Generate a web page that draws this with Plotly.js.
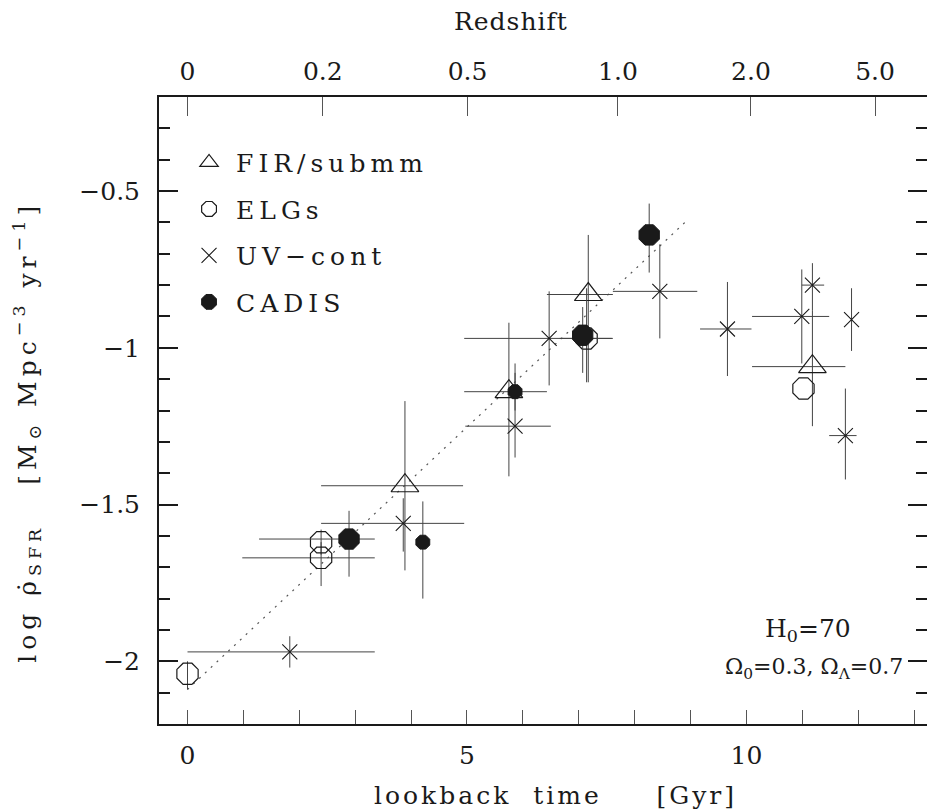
<!DOCTYPE html>
<html>
<head>
<meta charset="utf-8">
<script src="https://cdn.plot.ly/plotly-3.0.1.min.js"></script>
<style>
  html, body { margin: 0; padding: 0; background: #fff; }
  .legendtext { letter-spacing: 5px; }
  g.annotation[data-index="0"] text { letter-spacing: 5px; }
  g.annotation[data-index="1"] text { letter-spacing: 1px; }
  g.annotation[data-index="2"] text { letter-spacing: 3px; }
</style>
</head>
<body>
<div id="chart" style="width:927px;height:811px;"></div>
<script>
// ---- FIR/submm (open triangles) ----
const firT    = [3.89, 5.75, 7.17, 11.18];
const firY    = [-1.44, -1.14, -0.83, -1.06];
const firTlo  = [2.39, 4.95, 6.43, 10.10];
const firThi  = [4.93, 6.43, 7.61, 11.77];
const firYlo  = [-1.71, -1.41, -1.11, -1.25];
const firYhi  = [-1.17, -0.92, -0.64, -0.88];

// ---- ELGs (open octagons) ----
const elgT    = [0.00, 2.39, 2.39, 7.14, 11.02];
const elgY    = [-2.04, -1.62, -1.67, -0.97, -1.13];
const elgTlo  = [0.00, 2.39, 0.98, 6.66, 11.02];
const elgThi  = [0.00, 2.39, 3.35, 7.61, 11.02];
const elgYlo  = [-2.09, -1.66, -1.76, -1.11, -1.13];
const elgYhi  = [-2.00, -1.58, -1.62, -0.81, -1.13];

// ---- UV-cont (crosses) ----
const uvT     = [1.83, 3.86, 5.86, 6.47, 8.45, 9.66, 10.99, 11.18, 11.88, 11.77];
const uvY     = [-1.97, -1.56, -1.25, -0.97, -0.82, -0.94, -0.90, -0.80, -0.91, -1.28];
const uvTlo   = [0.00, 2.39, 4.97, 4.95, 7.61, 9.17, 10.10, 10.99, 11.88, 11.48];
const uvThi   = [3.35, 4.95, 6.50, 7.59, 9.12, 10.09, 11.48, 11.39, 11.88, 11.97];
const uvYlo   = [-2.02, -1.65, -1.35, -1.12, -0.97, -1.09, -1.05, -0.88, -1.01, -1.42];
const uvYhi   = [-1.92, -1.48, -1.05, -0.82, -0.67, -0.79, -0.75, -0.73, -0.81, -1.13];

// ---- CADIS (filled octagons) ----
const cadT    = [2.89, 4.21, 5.86, 7.07, 8.26];
const cadY    = [-1.61, -1.62, -1.14, -0.96, -0.64];
const cadTlo  = [1.28, 4.21, 5.86, 7.07, 8.26];
const cadThi  = [3.35, 4.21, 5.86, 7.07, 8.26];
const cadYlo  = [-1.73, -1.80, -1.20, -1.08, -0.76];
const cadYhi  = [-1.52, -1.49, -1.08, -0.87, -0.54];
const cadKind = ['wide', 'deep', 'deep', 'wide', 'wide'];

// ---- dotted fit line (end points) ----
const fitT = [0.0, 8.9];
const fitY = [-2.09, -0.60];

// ---- top axis: redshift labels and their lookback times ----
const zLabels   = ['0', '0.2', '0.5', '1.0', '2.0', '5.0'];
const zLookback = [0, 2.42, 5.01, 7.70, 10.08, 12.30];

// ---- names ----
const seriesNames = ['FIR/submm', 'ELGs', 'UV\u2212cont', 'CADIS'];

// ---------------------------------------------------------------
const FONT = 'DejaVu Serif, serif';
const INK = '#1a1a1a';
const ERR = '#444';
const kindSize = { wide: 22, deep: 15 };

function diff(a, b) { return a.map((v, i) => v - b[i]); }

function errX(t, lo, hi) {
  return { type: 'data', symmetric: false, array: diff(hi, t), arrayminus: diff(t, lo),
           width: 0, thickness: 1, color: ERR };
}
function errY(y, lo, hi) {
  return { type: 'data', symmetric: false, array: diff(hi, y), arrayminus: diff(y, lo),
           width: 0, thickness: 1, color: ERR };
}

const traces = [
  {
    x: fitT, y: fitY, mode: 'lines', showlegend: false, hoverinfo: 'skip',
    line: { color: '#555', width: 1.2, dash: '2px,6px' }
  },
  {
    name: seriesNames[0], legendgroup: 'g1', x: firT, y: firY, mode: 'markers',
    error_x: errX(firT, firTlo, firThi), error_y: errY(firY, firYlo, firYhi),
    marker: { symbol: 'triangle-up-open', size: 24, color: INK, opacity: 1, line: { color: INK, width: 1.2 } }
  },
  {
    name: seriesNames[1], legendgroup: 'g2', x: elgT, y: elgY, mode: 'markers',
    error_x: errX(elgT, elgTlo, elgThi), error_y: errY(elgY, elgYlo, elgYhi),
    marker: { symbol: 'octagon-open', size: 23, color: INK, opacity: 1, line: { color: INK, width: 1.2 } }
  },
  {
    name: seriesNames[2], legendgroup: 'g3', x: uvT, y: uvY, mode: 'markers',
    error_x: errX(uvT, uvTlo, uvThi), error_y: errY(uvY, uvYlo, uvYhi),
    marker: { symbol: 'x-thin-open', size: 15, color: INK, opacity: 1, line: { color: INK, width: 1.1 } }
  },
  {
    name: seriesNames[3], legendgroup: 'g4', x: cadT, y: cadY, mode: 'markers',
    error_x: errX(cadT, cadTlo, cadThi), error_y: errY(cadY, cadYlo, cadYhi),
    marker: { symbol: 'octagon', size: cadKind.map(k => kindSize[k]), color: INK, opacity: 1,
              line: { color: INK, width: 1 } }
  },
  {
    // invisible helper so that the top and right mirror axes are drawn
    x: uvT, y: uvY, xaxis: 'x2', yaxis: 'y2', mode: 'markers', showlegend: false,
    hoverinfo: 'skip', marker: { opacity: 0, size: 1 }
  }
];

const xRange = [-0.51, 13.23];
const yRange = [-2.2, -0.2];

const layout = {
  width: 927, height: 811,
  margin: { l: 159, r: 0, t: 97, b: 87, pad: 0 },
  paper_bgcolor: '#fff', plot_bgcolor: '#fff',
  font: { family: FONT, color: INK, size: 24 },
  showlegend: true,
  legend: {
    x: 0.030, y: 0.932, xanchor: 'left', yanchor: 'top',
    bgcolor: 'rgba(0,0,0,0)', borderwidth: 0,
    font: { family: FONT, size: 25, color: INK },
    traceorder: 'grouped', tracegroupgap: 11, itemsizing: 'trace', itemwidth: 44
  },
  xaxis: {
    range: xRange, showgrid: false, zeroline: false,
    showline: true, linewidth: 2, linecolor: INK, mirror: false,
    tick0: 0, dtick: 5, ticks: 'inside', ticklen: 14, tickwidth: 1, tickcolor: '#555',
    minor: { tick0: 0, dtick: 1, ticks: 'inside', ticklen: 14, tickwidth: 1, tickcolor: '#555' },
    tickfont: { family: FONT, size: 25, color: INK },
    ticklabelstandoff: 8
  },
  xaxis2: {
    overlaying: 'x', side: 'top', anchor: 'y2', range: xRange,
    showgrid: false, zeroline: false, showline: true, linewidth: 2, linecolor: INK,
    tickmode: 'array', tickvals: zLookback, ticktext: zLabels,
    ticks: 'inside', ticklen: 19, tickwidth: 1, tickcolor: '#555',
    tickfont: { family: FONT, size: 25, color: INK },
    ticklabelstandoff: 5
  },
  yaxis: {
    range: yRange, showgrid: false, zeroline: false,
    showline: true, linewidth: 2, linecolor: INK,
    tick0: 0, dtick: 0.5, ticks: 'inside', ticklen: 19, tickwidth: 2, tickcolor: INK,
    minor: { tick0: 0, dtick: 0.1, ticks: 'inside', ticklen: 11, tickwidth: 2, tickcolor: INK },
    tickfont: { family: FONT, size: 25, color: INK },
    ticklabelstandoff: 12
  },
  yaxis2: {
    overlaying: 'y', side: 'right', anchor: 'x2', range: yRange,
    showgrid: false, zeroline: false, showline: true, linewidth: 2, linecolor: INK,
    tick0: 0, dtick: 0.5, ticks: 'inside', ticklen: 19, tickwidth: 2, tickcolor: INK,
    minor: { tick0: 0, dtick: 0.1, ticks: 'inside', ticklen: 11, tickwidth: 2, tickcolor: INK },
    showticklabels: false
  },
  annotations: [
    {
      text: 'log \u03c1\u0307<sub>SFR</sub>\u00a0\u00a0\u00a0[M<sub>\u2299</sub> Mpc<sup>\u22123</sup> yr<sup>\u22121</sup>]',
      textangle: -90, xref: 'paper', yref: 'paper', x: -0.172, y: 0.466,
      xanchor: 'center', yanchor: 'middle', showarrow: false,
      font: { family: FONT, size: 25, color: INK }
    },
    {
      text: 'Redshift', xref: 'paper', yref: 'paper', x: 0.458, y: (724 - 22) / 627,
      xanchor: 'center', yanchor: 'middle', showarrow: false,
      font: { family: FONT, size: 25, color: INK }
    },
    {
      text: 'lookback\u00a0\u00a0time\u00a0\u00a0\u00a0\u00a0\u00a0[Gyr]', xref: 'paper', yref: 'paper',
      x: (555 - 159) / 768, y: (724 - 795) / 627,
      xanchor: 'center', yanchor: 'middle', showarrow: false,
      font: { family: FONT, size: 25, color: INK }
    },
    {
      text: 'H<sub>0</sub>=70', xref: 'paper', yref: 'paper', x: (808 - 159) / 768, y: (724 - 630) / 627,
      xanchor: 'center', yanchor: 'middle', showarrow: false,
      font: { family: FONT, size: 25, color: INK }
    },
    {
      text: '\u03a9<sub>0</sub>=0.3, \u03a9<sub>\u039b</sub>=0.7', xref: 'paper', yref: 'paper',
      x: (905 - 159) / 768, y: (724 - 668) / 627, xanchor: 'right', yanchor: 'middle', showarrow: false,
      font: { family: FONT, size: 22, color: INK }
    }
  ]
};

Plotly.newPlot('chart', traces, layout, { displayModeBar: false, staticPlot: true });
</script>
</body>
</html>
